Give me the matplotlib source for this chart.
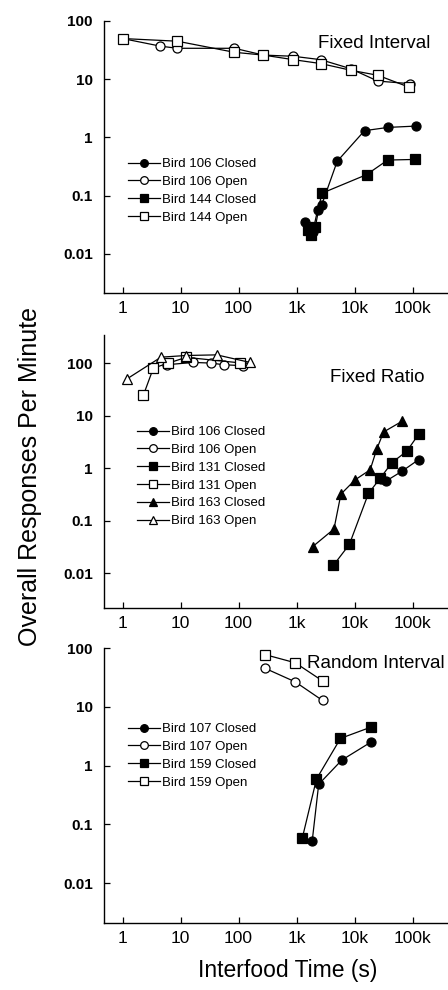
import numpy as np
import matplotlib
matplotlib.use("Agg")
from matplotlib import pyplot as plt

plt.rcParams['font.family'] = ['Liberation Sans', 'DejaVu Sans']

# ---- Fixed Interval ----
fi_106c_x = [1400, 1900, 2300, 2700, 5000, 14800, 37500, 113000]
fi_106c_y = [0.036, 0.024, 0.057, 0.069, 0.39, 1.31, 1.49, 1.57]
fi_106o_x = [1, 4.5, 8.8, 85, 267, 875, 2600, 8500, 25000, 90000]
fi_106o_y = [50, 37, 34, 34, 26, 24.8, 21.7, 15.2, 9.3, 8.4]
fi_144c_x = [1600, 1750, 2100, 2700, 16000, 37000, 108000]
fi_144c_y = [0.026, 0.021, 0.029, 0.11, 0.23, 0.41, 0.42]
fi_144o_x = [1, 8.8, 85, 267, 875, 2600, 8500, 25000, 87000]
fi_144o_y = [50, 45, 29, 26, 21.7, 18.6, 14.3, 11.7, 7.3]

# ---- Fixed Ratio ----
fr_106c_x = [28000, 34000, 65000, 126000]
fr_106c_y = [0.62, 0.56, 0.87, 1.45]
fr_106o_x = [5.8, 16.6, 34, 55, 121]
fr_106o_y = [94, 104, 101, 94, 90]
fr_131c_x = [4300, 8100, 17300, 27500, 44000, 79000, 126000]
fr_131c_y = [0.014, 0.035, 0.33, 0.64, 1.28, 2.1, 4.4]
fr_131o_x = [2.3, 3.4, 6.0, 12.5, 106]
fr_131o_y = [25, 81, 100, 130, 102]
fr_163c_x = [1900, 4400, 5800, 10200, 18500, 24000, 31500, 65000]
fr_163c_y = [0.032, 0.069, 0.32, 0.60, 0.93, 2.3, 4.9, 7.8]
fr_163o_x = [1.18, 4.6, 12.3, 42, 158]
fr_163o_y = [50, 131, 141, 145, 104]

# ---- Random Interval ----
ri_107c_x = [1860, 2400, 6000, 19000]
ri_107c_y = [0.053, 0.48, 1.24, 2.5]
ri_107o_x = [288, 950, 2800]
ri_107o_y = [45, 26.5, 12.8]
ri_159c_x = [1250, 2200, 5700, 19000]
ri_159c_y = [0.058, 0.59, 2.9, 4.5]
ri_159o_x = [288, 950, 2800]
ri_159o_y = [77, 56, 27.5]

xticks = [1, 10, 100, 1000, 10000, 100000]
xlabels = ['1', '10', '100', '1k', '10k', '100k']
yticks = [0.01, 0.1, 1, 10, 100]
ylabels = ['0.01', '0.1', '1', '10', '100']

W, H = 448, 990
fig = plt.figure(figsize=(W / 100, H / 100), dpi=100)

def px_axes(top, bottom, left=104, right=447):
    return [left / W, 1 - bottom / H, (right - left) / W, (bottom - top) / H]

panels = [
    dict(rect=px_axes(21, 293), ylim=(0.00214, 100), title='Fixed Interval', tpos=(318, 44),
         leg=(128, 158),
         series=[(fi_106c_x, fi_106c_y, 'o', 'black', 'Bird 106 Closed'),
                 (fi_106o_x, fi_106o_y, 'o', 'white', 'Bird 106 Open'),
                 (fi_144c_x, fi_144c_y, 's', 'black', 'Bird 144 Closed'),
                 (fi_144o_x, fi_144o_y, 's', 'white', 'Bird 144 Open')]),
    dict(rect=px_axes(335, 608), ylim=(0.00215, 347), title='Fixed Ratio', tpos=(330, 378),
         leg=(137, 426),
         series=[(fr_106c_x, fr_106c_y, 'o', 'black', 'Bird 106 Closed'),
                 (fr_106o_x, fr_106o_y, 'o', 'white', 'Bird 106 Open'),
                 (fr_131c_x, fr_131c_y, 's', 'black', 'Bird 131 Closed'),
                 (fr_131o_x, fr_131o_y, 's', 'white', 'Bird 131 Open'),
                 (fr_163c_x, fr_163c_y, '^', 'black', 'Bird 163 Closed'),
                 (fr_163o_x, fr_163o_y, '^', 'white', 'Bird 163 Open')]),
    dict(rect=px_axes(648, 923), ylim=(0.0021, 100), title='Random Interval', tpos=(307, 663),
         leg=(128, 723),
         series=[(ri_107c_x, ri_107c_y, 'o', 'black', 'Bird 107 Closed'),
                 (ri_107o_x, ri_107o_y, 'o', 'white', 'Bird 107 Open'),
                 (ri_159c_x, ri_159c_y, 's', 'black', 'Bird 159 Closed'),
                 (ri_159o_x, ri_159o_y, 's', 'white', 'Bird 159 Open')]),
]

for p in panels:
    ax = fig.add_axes(p['rect'])
    handles = []
    for xs, ys, mk, fc, lab in p['series']:
        h, = ax.plot(xs, ys, color='black', lw=0.9, marker=mk, ms=6.5 if mk != '^' else 7,
                     mfc=fc, mec='black', mew=0.9, label=lab, clip_on=False)
        handles.append(h)
    ax.set_xscale('log')
    ax.set_yscale('log')
    ax.set_xlim(0.48, 390000)
    ax.set_ylim(*p['ylim'])
    ax.spines['top'].set_visible(False)
    ax.spines['right'].set_visible(False)
    ax.spines['left'].set_linewidth(1.0)
    ax.spines['bottom'].set_linewidth(1.0)
    ax.minorticks_off()
    ax.set_xticks(xticks)
    ax.set_xticklabels(xlabels, fontsize=12.5)
    ax.set_yticks(yticks)
    ax.set_yticklabels(ylabels, fontsize=11, fontweight='bold')
    ax.tick_params(direction='in', length=4, width=0.9)
    ax.tick_params(axis='x', pad=6)
    ax.tick_params(axis='y', pad=8)
    lx, ly = p['leg']
    ax.legend(handles=handles, loc='upper left', bbox_to_anchor=(lx / W, 1 - ly / H),
              bbox_transform=fig.transFigure, frameon=False, fontsize=9.5, numpoints=1,
              handlelength=2.4, handletextpad=0.2, labelspacing=0.42, borderpad=0,
              borderaxespad=0, markerscale=0.85)
    tx, ty = p['tpos']
    fig.text(tx / W, 1 - ty / H, p['title'], fontsize=13.5, ha='left', va='center')

fig.text(30 / W, 1 - 477 / H, 'Overall Responses Per Minute', rotation=90,
         fontsize=18, ha='center', va='center')
fig.text(288 / W, 1 - 970 / H, 'Interfood Time (s)', fontsize=16.5, ha='center', va='center')

fig.savefig('out.png', dpi=100)
